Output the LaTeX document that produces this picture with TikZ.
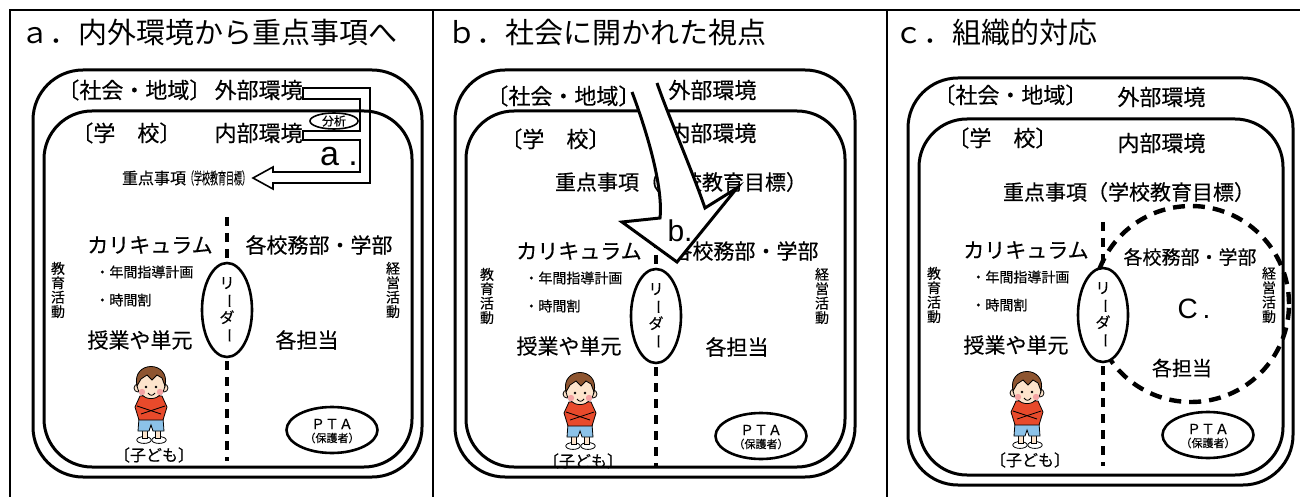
\documentclass[tikz,border=0pt]{standalone}
\usepackage{graphicx}
\usepackage{fontspec}
\setmainfont{Noto Sans CJK JP}[FakeBold=0.4]
\newfontfamily\titlefont{Noto Sans CJK JP}
\newfontfamily\latinfont{Liberation Sans}
\usetikzlibrary{shapes.geometric}
\pgfdeclarelayer{background}
\pgfsetlayers{background,main}

\definecolor{skin}{HTML}{FDE4CC}
\definecolor{hair}{HTML}{8E5530}
\definecolor{shirt}{HTML}{E84A2B}
\definecolor{shorts}{HTML}{8CC2E8}
\definecolor{cheek}{HTML}{F4A3A3}

\begin{document}
\begin{tikzpicture}[x=0.5pt, y=-0.5pt,
  schoolframe/.style={line width=1.5pt, rounded corners=25pt},
  gridline/.style={line width=1pt},
  dashline/.style={line width=1.6pt, dash pattern=on 4.5pt off 3.5pt},
  circdash/.style={line width=2.2pt, dash pattern=on 6pt off 4pt},
  oval/.style={ellipse, draw, line width=1.3pt, fill=white, inner sep=0pt},
  titletext/.style={font=\titlefont\fontsize{14.5}{16}\selectfont, inner sep=0pt, anchor=west},
  envtext/.style={font=\fontsize{11}{13}\selectfont, inner sep=0pt},
  bigtext/.style={font=\fontsize{10.5}{12}\selectfont, inner sep=0pt},
  smalltext/.style={font=\fontsize{7}{8}\selectfont, inner sep=0pt, anchor=west},
  vtext/.style={font=\fontsize{7}{7.2}\selectfont, align=center, inner sep=0pt},
  figline/.style={line width=0.4pt}]

  \useasboundingbox (0,0) rectangle (1300,497);

  % table lines
  \draw[gridline] (9,10) -- (1300,10);
  \draw[gridline] (10,10) -- (10,497);
  \draw[gridline] (433,10) -- (433,497);
  \draw[gridline] (887,10) -- (887,497);

  \node[titletext] (titleA) at (20,33) {ａ．内外環境から重点事項へ};
  \node[titletext] (titleB) at (447,33) {ｂ．社会に開かれた視点};
  \node[titletext] (titleC) at (894,33) {ｃ．組織的対応};

  % the same school picture in all three columns
  \foreach \p/\dx/\dy/\fl/\fr/\ft/\fb in {a/0/0/33/422/70/477, b/429/6/455/855/70/477, c/876/5/908/1293/78/485}{
    \draw[schoolframe] (\fl,\ft) rectangle (\fr,\fb);
    \draw[schoolframe, rounded corners=24pt] (\fl+11,\ft+41) rectangle (\fr-10,\fb-10);
    \begin{scope}[shift={(\dx,\dy)}]
      \node[envtext, anchor=west] (soc\p) at (57,90) {〔社会・地域〕};
      \node[envtext, anchor=west] (sch\p) at (71,133) {〔学　校〕};

      \coordinate (dtop\p) at (227,217);
      \coordinate (dbot\p) at (227,461);
      \draw[dashline] (dtop\p) -- (dbot\p);

      \node[bigtext] (cur\p) at (150,245) {カリキュラム};
      \node[smalltext] (plan\p) at (95,272) {・年間指導計画};
      \node[smalltext] (time\p) at (95,300) {・時間割};
      \node[vtext] (edu\p) at (58,290) {教\\育\\活\\動};
      \node[vtext] (mgt\p) at (393,290) {経\\営\\活\\動};
      \node[oval, minimum width=25pt, minimum height=47pt, align=center,
            font=\fontsize{7.5}{7.8}\selectfont] (lead\p) at (227,310)
            {リ\\\rotatebox[origin=c]{-90}{ー}\\ダ\\\rotatebox[origin=c]{-90}{ー}};
      \node[bigtext] (unit\p) at (140,340) {授業や単元};

      % boy
      \filldraw[figline, fill=white] (144,440) ellipse [x radius=3.6pt, y radius=1.7pt];
      \filldraw[figline, fill=white] (159,440) ellipse [x radius=3.6pt, y radius=1.7pt];
      \filldraw[figline, fill=skin] (142,428) rectangle (147,438);
      \filldraw[figline, fill=skin] (155,428) rectangle (160,438);
      \filldraw[figline, fill=shorts] (139,418) -- (163,418) -- (164,431) -- (153,431)
        -- (151,425) -- (149,431) -- (138,431) -- cycle;
      \filldraw[figline, fill=shirt] (140,396) -- (162,396) -- (167,407) -- (163,420)
        -- (139,420) -- (135,407) -- cycle;
      \draw[figline] (137,406) -- (161,414);
      \draw[figline] (165,406) -- (141,414);
      \filldraw[figline, fill=skin] (138,388) circle [radius=2pt];
      \filldraw[figline, fill=skin] (164,388) circle [radius=2pt];
      \filldraw[figline, fill=skin] (151,384) ellipse [x radius=7pt, y radius=7.3pt];
      \filldraw[figline, fill=hair] (137,386) .. controls (131,360) and (171,360) .. (165,386)
        -- (162,378) -- (157,375) -- (152,380) -- (147,375) -- (141,379) -- cycle;
      \fill (146,387) circle [radius=0.7pt];
      \fill (156,387) circle [radius=0.7pt];
      \fill[cheek] (142,392) circle [radius=1.6pt];
      \fill[cheek] (160,392) circle [radius=1.6pt];
      \draw[figline] (148,393) .. controls (150,396) and (153,396) .. (155,393);

      \node[font=\fontsize{8}{9}\selectfont, inner sep=0pt] (kid\p) at (154,455) {〔子ども〕};

      \node[oval, minimum width=45.5pt, minimum height=23pt] (pta\p) at (332,430) {};
      \node[font=\fontsize{7}{8}\selectfont, inner sep=0pt] at (332,424) {ＰＴＡ};
      \node[font=\fontsize{5.5}{6}\selectfont, inner sep=0pt] at (332,438) {（保護者）};
    \end{scope}
  }

  % column a
  \node[envtext, anchor=east] (outA) at (303,90) {外部環境};
  \node[envtext, anchor=east] (inA) at (303,133) {内部環境};
  \draw[line width=0.8pt] (303,88) -- (370,88) -- (370,183) -- (273,183) -- (273,189)
    -- (253,178) -- (273,167) -- (273,172) -- (360,172) -- (360,140) -- (303,140)
    -- (303,131) -- (360,131) -- (360,99) -- (303,99) -- cycle;
  \node[oval, line width=0.8pt, minimum width=24pt, minimum height=8pt,
        font=\fontsize{6}{7}\selectfont] (analysis) at (334,121) {分析};
  \node[font=\latinfont\fontsize{17}{20}\selectfont, inner sep=0pt] (markA) at (339,157) {a .};
  \node[inner sep=0pt] (focusA) at (186,178)
    {\fontsize{8}{9}\selectfont 重点事項\scalebox{0.5}[1]{（学校教育目標）}};
  \node[bigtext] (deptA) at (319,245) {各校務部・学部};
  \node[bigtext] (staffA) at (307,340) {各担当};

  % column b
  \node[envtext, anchor=west] (outB) at (668,90) {外部環境};
  \node[envtext, anchor=west] (inB) at (668,133) {内部環境};
  \node[bigtext] (focusB) at (681,182) {重点事項（学校教育目標）};
  \node[bigtext] (deptB) at (745,251) {各校務部・学部};
  \node[bigtext] (staffB) at (737,347) {各担当};
  \filldraw[fill=white, line width=1.5pt] (632,92) .. controls (650,140) and (663,190) .. (660,218)
    -- (622,222) -- (677,262) -- (737,188) -- (705,208)
    .. controls (690,165) and (668,115) .. (657,83);
  \node[font=\latinfont\fontsize{15}{18}\selectfont, inner sep=0pt] (markB) at (680,231) {b.};

  % column c
  \node[envtext, anchor=west] (outC) at (1117,97) {外部環境};
  \node[envtext, anchor=west] (inC) at (1117,143) {内部環境};
  \node[bigtext] (focusC) at (1129,192) {重点事項（学校教育目標）};
  \node[font=\fontsize{9.5}{11}\selectfont, inner sep=0pt] (deptC) at (1190,257) {各校務部・学部};
  \node[font=\fontsize{10}{12}\selectfont, inner sep=0pt] (staffC) at (1182,368) {各担当};
  \node[font=\latinfont\fontsize{14}{17}\selectfont, inner sep=0pt] (markC) at (1194,309) {C\,.};
  \begin{pgfonlayer}{background}
    \draw[circdash] (1191,304) circle [radius=49pt];
  \end{pgfonlayer}
\end{tikzpicture}
\end{document}
